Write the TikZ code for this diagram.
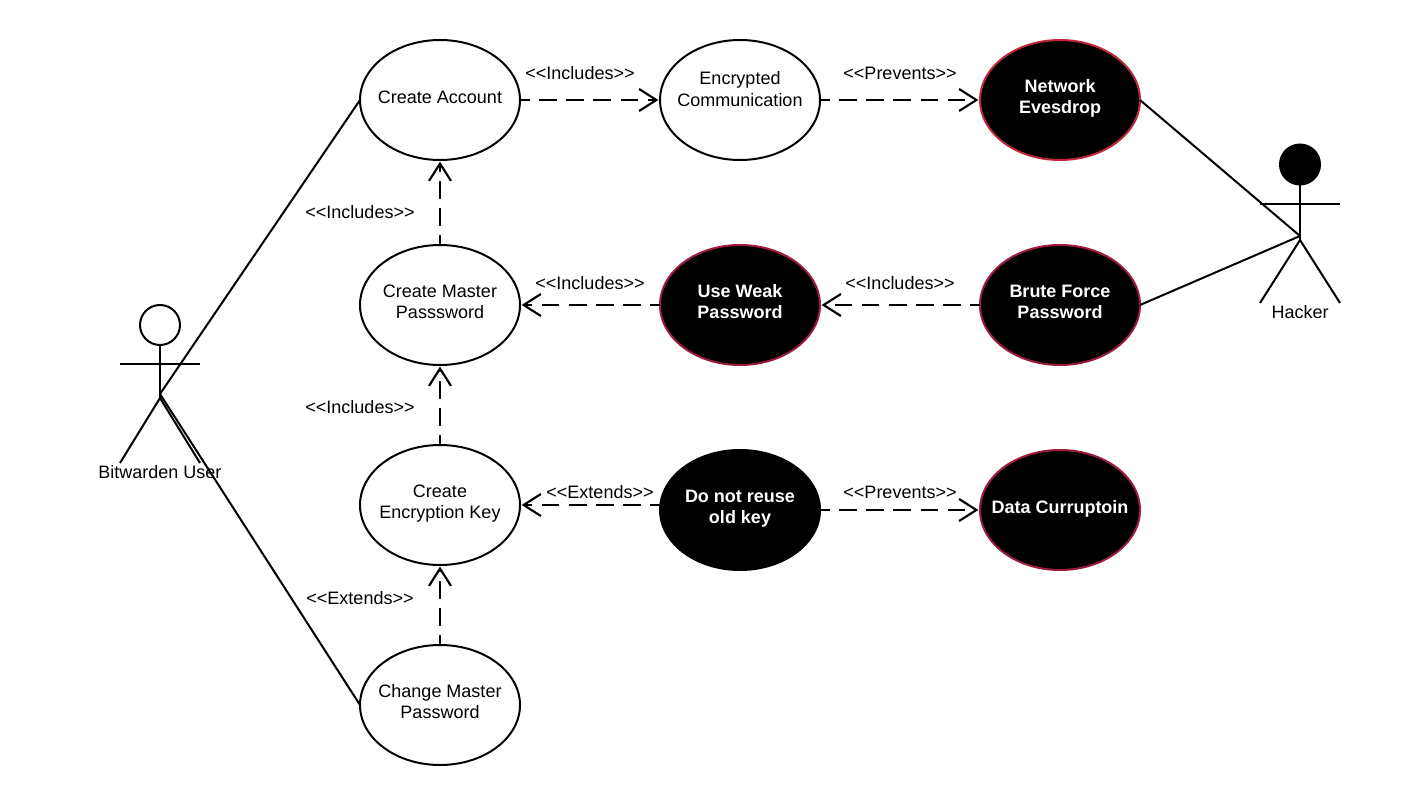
\documentclass[tikz,border=0pt]{standalone}
\usepackage{fontspec}
\setmainfont{Liberation Sans}
\usetikzlibrary{shapes.geometric,arrows.meta}
\definecolor{redA}{HTML}{C0283C}
\definecolor{redB}{HTML}{9E1B3C}
\newcommand\lab[1]{<\kern0pt<#1>\kern0pt>}
\newcommand\tx[2]{\raisebox{#1}[0pt][0pt]{\makebox[0pt]{\begin{tabular}{@{}c@{}}#2\end{tabular}}}}
\tikzset{
  usecase/.style={ellipse,draw=black,line width=1.5pt,fill=white,minimum width=120pt,minimum height=90pt,inner sep=0pt,outer sep=0pt,font=\fontsize{13.5}{16.2}\selectfont,align=center},
  threat/.style={usecase,fill=black,text=white,font=\fontsize{13.5}{16.2}\selectfont\bfseries,draw=redA},
  threatb/.style={threat,draw=redB},
  mitigate/.style={threat,draw=black},
  dep/.style={line width=1.6pt,shorten >=1.2pt,dash pattern=on 13.3pt off 7pt,dash phase=5.8pt,-{Straight Barb[length=13pt,width=16.5pt,line width=1.6pt]}},
  assoc/.style={line width=1.5pt},
  stick/.style={line width=1.5pt},
  lbl/.style={font=\fontsize{13.5}{16}\selectfont,inner sep=0pt,anchor=base},
  head/.style={circle,draw=black,line width=1.5pt,minimum size=30pt,inner sep=0pt,outer sep=0pt},
}
\begin{document}
\begin{tikzpicture}[x=0.75pt,y=-0.75pt]
\useasboundingbox[fill=white] (0,0) rectangle (1420,805);
% use cases
\node[usecase] (account) at (440,100) {\tx{-3pt}{Create Account}};
\node[usecase] (comm) at (740,100) {\tx{3pt}{Encrypted\\Communication}};
\node[threat] (net) at (1060,100) {\tx{-2.75pt}{Network\\Evesdrop}};
\node[usecase] (master) at (440,305) {\tx{-2.75pt}{Create Master\\Passsword}};
\node[threatb] (weak) at (740,305) {\tx{-2.75pt}{Use Weak\\Password}};
\node[threatb] (brute) at (1060,305) {\tx{-2.75pt}{Brute Force\\Password}};
\node[usecase] (key) at (440,505) {\tx{-2.75pt}{Create\\Encryption Key}};
\node[mitigate] (reuse) at (740,510) {\tx{-2.75pt}{Do not reuse\\old key}};
\node[threatb] (corrupt) at (1060,510) {\tx{-3pt}{Data Curruptoin}};
\node[usecase] (change) at (440,705) {\tx{-2.75pt}{Change Master\\Password}};
% actors
\node[head] (uhead) at (160,325) {};
\coordinate (uhip) at (160,398);
\coordinate (uhub) at (160,394);
\coordinate (uarmL) at (120,364);
\coordinate (uarmR) at (200,364);
\coordinate (ulegL) at (120,463);
\coordinate (ulegR) at (200,463);
\draw[stick] (uhead.south) -- (uhip);
\draw[stick] (uarmL) -- (uarmR);
\draw[stick] (ulegL) -- (uhip) -- (ulegR);
\node[head,fill=black] (hhead) at (1300,164.5) {};
\coordinate (hhip) at (1300,240);
\coordinate (hhub) at (1300,236);
\coordinate (harmL) at (1260,204);
\coordinate (harmR) at (1340,204);
\coordinate (hlegL) at (1260,303);
\coordinate (hlegR) at (1340,303);
\draw[stick] (hhead.south) -- (hhip);
\draw[stick] (harmL) -- (harmR);
\draw[stick] (hlegL) -- (hhip) -- (hlegR);
\node[lbl] (ulabel) at (160,478) {Bitwarden User};
\node[lbl] (hlabel) at (1300,318.5) {Hacker};
% associations
\draw[assoc] (account.west) -- (uhub);
\draw[assoc] (change.west) -- (uhub);
\draw[assoc] (net.east) -- (hhub);
\draw[assoc] (brute.east) -- (hhub);
% dependencies
\draw[dep] (account.east) -- (comm.west);
\draw[dep] (comm.east) -- (net.west);
\draw[dep] (master.north) -- (account.south);
\draw[dep] (weak.west) -- (master.east);
\draw[dep] (brute.west) -- (weak.east);
\draw[dep] (key.north) -- (master.south);
\draw[dep] (reuse.west |- key.east) -- (key.east);
\draw[dep] (reuse.east) -- (corrupt.west);
\draw[dep] (change.north) -- (key.south);
% labels
\node[lbl] (l1) at (580,79.5) {\lab{Includes}};
\node[lbl] (l2) at (900,79.5) {\lab{Prevents}};
\node[lbl] (l3) at (360,218.3) {\lab{Includes}};
\node[lbl] (l4) at (590,289.3) {\lab{Includes}};
\node[lbl] (l5) at (900,289.3) {\lab{Includes}};
\node[lbl] (l6) at (360,413.5) {\lab{Includes}};
\node[lbl] (l7) at (600,498) {\lab{Extends}};
\node[lbl] (l8) at (900,498) {\lab{Prevents}};
\node[lbl] (l9) at (360,604) {\lab{Extends}};
\end{tikzpicture}
\end{document}
